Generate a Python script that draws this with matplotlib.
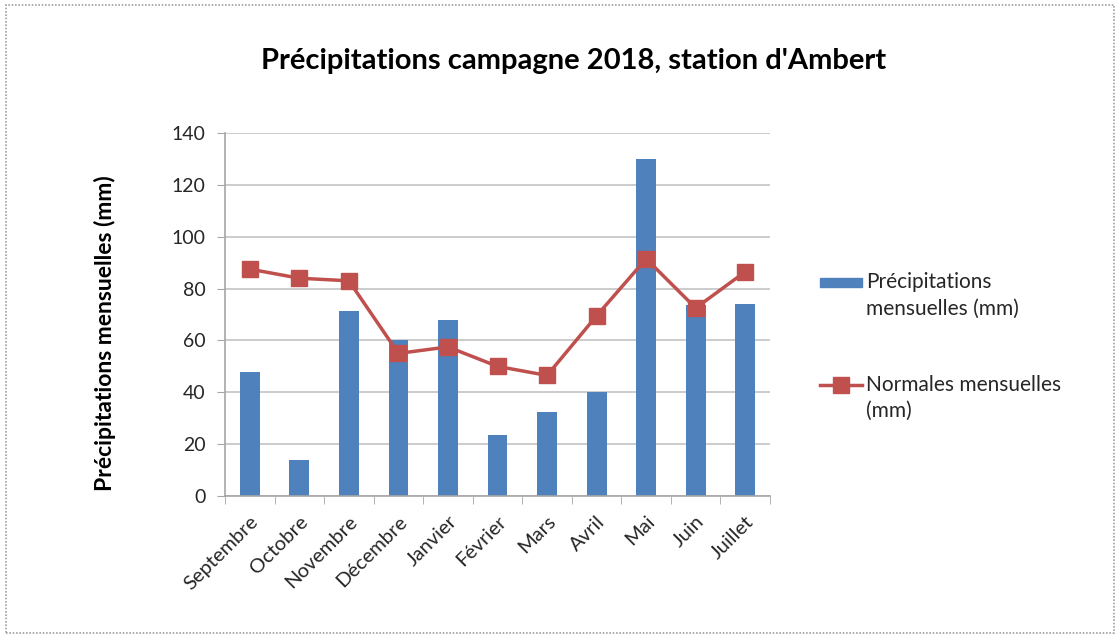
import numpy as np
import matplotlib.pyplot as plt
from matplotlib.patches import Rectangle
from matplotlib.lines import Line2D

plt.rcParams['font.family'] = ['Lato', 'DejaVu Sans']

# data
mois = ["Septembre", "Octobre", "Novembre", "Décembre", "Janvier", "Février",
        "Mars", "Avril", "Mai", "Juin", "Juillet"]
precip = [48, 14, 71.5, 60, 68, 23.5, 32.5, 40, 130, 73.5, 74]
normales = [87.5, 84, 83, 55, 57.5, 50, 46.5, 69.5, 91.5, 72.5, 86.5]

blue = "#4f81bd"
red = "#c0504d"
txt = "#262626"

W, H = 1120, 641
fig = plt.figure(figsize=(11.2, 6.41), dpi=100)
ax = fig.add_axes([0.2009, 0.2262, 0.4866, 0.5663])

x = np.arange(len(mois))
ax.bar(x, precip, width=0.40, color=blue, zorder=2)
ax.plot(x, normales, color=red, lw=2.5, marker="s", ms=11, zorder=3)

ax.set_xlim(-0.5, len(mois) - 0.5)
ax.set_ylim(0, 140)
ax.set_yticks(range(0, 141, 20))
ax.yaxis.grid(True, color="#c4c4c4", lw=1.2, zorder=0)
ax.set_axisbelow(True)

ax.set_xticks(x)
ax.set_xticklabels(mois, rotation=45, ha="right", rotation_mode="anchor", fontsize=14.5, color=txt)
ax.set_xticks(np.arange(-0.5, len(mois)), minor=True)
ax.tick_params(axis="x", which="major", length=0, pad=12)
ax.tick_params(axis="x", which="minor", length=6, color="#a6a6a6", direction="out")
ax.tick_params(axis="y", length=6, color="#a6a6a6", labelsize=14, labelcolor=txt, pad=8)

for s in ["top", "right"]:
    ax.spines[s].set_visible(False)
for s in ["left", "bottom"]:
    ax.spines[s].set_color("#a6a6a6")
    ax.spines[s].set_linewidth(1.2)

ax.set_ylabel("Précipitations mensuelles (mm)", fontsize=16.5, fontweight="bold", color="black")
ax.yaxis.set_label_coords(-0.20, 0.45)
fig.text(0.512, 0.905, "Précipitations campagne 2018, station d'Ambert",
         ha="center", va="center", fontsize=21, fontweight="bold")

# legend drawn by hand so the keys sit on the first line of each label
def fx(px):
    return px / W

def fy(py):
    return 1 - py / H

legend_rows = [("Précipitations", 282), ("mensuelles (mm)", 309),
               ("Normales mensuelles", 385), ("(mm)", 411)]

fig.patches.append(Rectangle((fx(820), fy(287)), fx(42), 9 / H, transform=fig.transFigure,
                             color=blue))
fig.lines.append(Line2D([fx(820), fx(862)], [fy(385), fy(385)], transform=fig.transFigure,
                        color=red, lw=2.5))
fig.lines.append(Line2D([fx(841)], [fy(385)], transform=fig.transFigure,
                        color=red, marker="s", ms=11, lw=0))
for label, py in legend_rows:
    fig.text(fx(866), fy(py), label, ha="left", va="center", fontsize=15, color=txt)

fig.patches.append(Rectangle((0.005, 0.012), 0.99, 0.98, transform=fig.transFigure,
                             fill=False, edgecolor="#a0a0a0", lw=1.2, ls=(0, (1, 1))))

fig.savefig("out.png", dpi=100)
